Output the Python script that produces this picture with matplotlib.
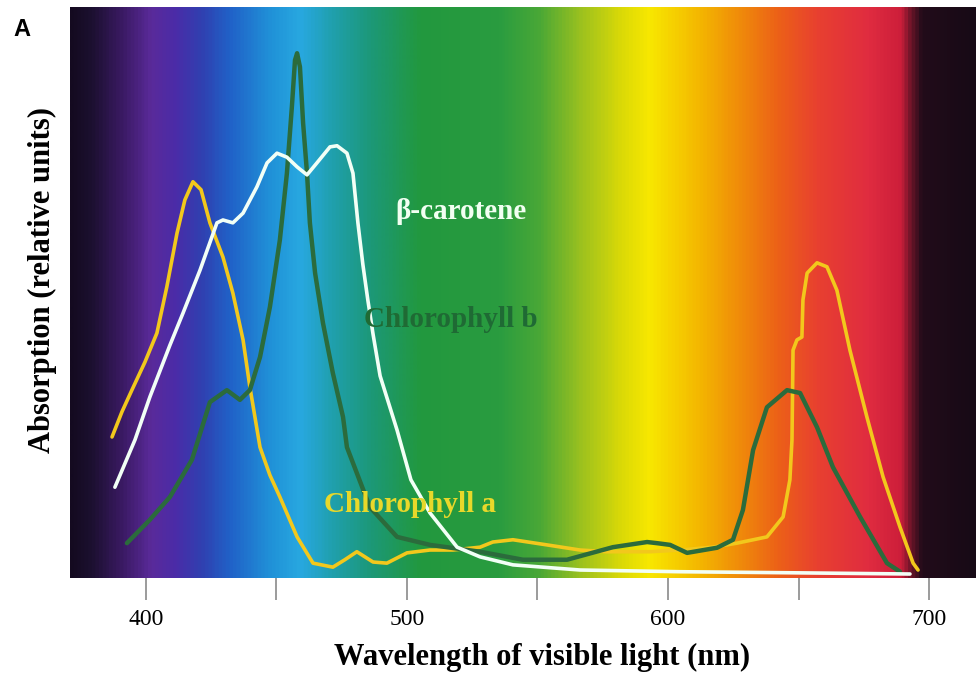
import matplotlib
matplotlib.use("Agg")
import matplotlib.pyplot as plt
import numpy as np
from matplotlib.colors import LinearSegmentedColormap

# wavelength (nm) vs relative absorption
chl_a_nm = [387.0, 390.8, 394.6, 399.6, 404.2, 408.0, 411.9, 414.9, 418.0, 421.1,
            424.5, 429.5, 433.3, 437.2, 439.8, 443.7, 447.5, 451.3, 457.9, 464.0,
            471.6, 476.2, 480.8, 487.0, 492.3, 500.0, 508.8, 517.6, 528.0, 532.9,
            540.6, 553.6, 566.3, 576.6, 593.1, 604.6, 617.2, 626.4, 637.9, 644.1,
            646.7, 647.5, 647.9, 649.4, 651.3, 651.7, 653.3, 657.1, 660.9, 664.7,
            669.7, 676.2, 682.4, 688.9, 693.9, 695.8]
chl_a_abs = [0.247, 0.291, 0.329, 0.378, 0.429, 0.510, 0.604, 0.662, 0.694, 0.680,
             0.622, 0.562, 0.499, 0.417, 0.335, 0.229, 0.180, 0.142, 0.072, 0.026,
             0.019, 0.032, 0.046, 0.028, 0.026, 0.044, 0.049, 0.049, 0.054, 0.063,
             0.067, 0.058, 0.049, 0.046, 0.046, 0.049, 0.054, 0.061, 0.072, 0.107,
             0.172, 0.242, 0.399, 0.417, 0.422, 0.487, 0.534, 0.552, 0.545, 0.504,
             0.399, 0.282, 0.177, 0.089, 0.026, 0.014]

chl_b_nm = [392.7, 401.5, 409.2, 417.6, 424.5, 431.0, 436.0, 439.8, 443.7, 447.5,
            451.3, 454.0, 455.9, 457.1, 457.9, 459.0, 460.2, 461.7, 462.8, 464.8,
            467.8, 471.6, 475.5, 477.0, 485.8, 496.2, 508.8, 528.0, 544.4, 561.3,
            578.9, 592.0, 595.8, 600.8, 607.3, 618.8, 624.9, 628.7, 632.6, 637.9,
            645.6, 650.6, 657.1, 663.2, 673.6, 683.9, 688.9]
chl_b_abs = [0.061, 0.102, 0.142, 0.207, 0.308, 0.329, 0.312, 0.329, 0.387, 0.475,
             0.592, 0.709, 0.825, 0.907, 0.919, 0.895, 0.797, 0.709, 0.622, 0.534,
             0.447, 0.359, 0.282, 0.229, 0.124, 0.072, 0.058, 0.046, 0.032, 0.032,
             0.054, 0.063, 0.061, 0.058, 0.044, 0.053, 0.067, 0.119, 0.224, 0.299,
             0.329, 0.324, 0.264, 0.194, 0.107, 0.026, 0.011]

carot_nm = [388.1, 395.8, 401.5, 409.2, 414.2, 420.7, 427.2, 429.5, 433.3, 437.2,
            442.5, 446.4, 450.2, 454.0, 457.9, 461.7, 465.5, 470.5, 473.2, 477.0,
            479.3, 481.2, 483.1, 485.0, 487.0, 489.7, 496.2, 501.5, 508.8, 519.2,
            528.0, 540.6, 566.3, 604.6, 650.6, 692.7]
carot_abs = [0.159, 0.242, 0.317, 0.408, 0.464, 0.539, 0.622, 0.627, 0.622, 0.639,
             0.685, 0.727, 0.744, 0.737, 0.720, 0.706, 0.727, 0.755, 0.757, 0.744,
             0.709, 0.622, 0.549, 0.487, 0.427, 0.354, 0.259, 0.172, 0.114, 0.054,
             0.037, 0.023, 0.014, 0.011, 0.009, 0.007]

major_ticks = [400, 500, 600, 700]
minor_ticks = [450, 550, 650]

# visible spectrum backdrop
spectrum = [
    (370.9, "#140a20"), (378.5, "#1c1030"), (390.0, "#3a1a62"), (401.5, "#5a2a9a"),
    (411.0, "#4a2ca8"), (420.7, "#3040b0"), (432.0, "#2062c8"), (447.5, "#2092d8"),
    (459.0, "#28a8e0"), (470.5, "#20a0b0"), (485.8, "#1c9878"), (505.0, "#22983e"),
    (535.6, "#2a9c40"), (551.0, "#4aa836"), (566.0, "#98c020"), (581.6, "#d8d808"),
    (593.0, "#f8e800"), (612.0, "#f4b800"), (627.6, "#f08c0a"), (643.0, "#ec6018"),
    (658.0, "#e84030"), (677.4, "#e02c40"), (690.0, "#cc1e3a"), (694.0, "#6a1428"),
    (698.0, "#220c1a"), (718.0, "#170a16"),
]
xmin, xmax = 370.9, 718.0
stops = [((w - xmin) / (xmax - xmin), c) for w, c in spectrum]
cmap = LinearSegmentedColormap.from_list("spectrum", stops)

fig = plt.figure(figsize=(9.76, 6.81), dpi=100)
ax = fig.add_axes([70 / 976, 1 - 578 / 681, 906 / 976, 571 / 681])

grad = np.linspace(0, 1, 1000).reshape(1, -1)
ax.imshow(grad, extent=[xmin, xmax, 0, 1], aspect="auto", cmap=cmap,
          interpolation="bilinear", zorder=0)

line_kw = dict(solid_joinstyle="round", solid_capstyle="round")
ax.plot(chl_a_nm, chl_a_abs, color="#f2c81c", lw=2.6, zorder=2, **line_kw)
ax.plot(chl_b_nm, chl_b_abs, color="#2b6b3c", lw=3.2, zorder=3, **line_kw)
ax.plot(carot_nm, carot_abs, color="#f2fff6", lw=2.6, zorder=4, **line_kw)

serif = ["Liberation Serif", "DejaVu Serif"]
ax.text(520.7, 0.641, "β-carotene", color="#f2fff2", fontsize=21, fontweight="bold",
        family=serif, ha="center", va="center", zorder=5)
ax.text(516.9, 0.452, "Chlorophyll b", color="#1f6a34", fontsize=21, fontweight="bold",
        family=serif, ha="center", va="center", zorder=5)
ax.text(501.1, 0.128, "Chlorophyll a", color="#e8d82a", fontsize=21, fontweight="bold",
        family=serif, ha="center", va="center", zorder=5)

ax.set_xlim(xmin, xmax)
ax.set_ylim(0, 1)
ax.set_xticks(major_ticks)
ax.set_xticklabels([str(t) for t in major_ticks], family=serif, fontsize=17)
ax.set_xticks(minor_ticks, minor=True)
ax.tick_params(axis="x", which="both", direction="out", length=16, width=1.2,
               color="#8a8a8a", pad=6)
ax.set_yticks([])
for s in ax.spines.values():
    s.set_visible(False)

fig.text(0.555, 1 - 657 / 681, "Wavelength of visible light (nm)", fontsize=22,
         fontweight="bold", family=serif, ha="center", va="center")
fig.text(0.044, 1 - 280 / 681, "Absorption (relative units)", fontsize=22,
         fontweight="bold", family=serif, ha="center", va="center", rotation=90)
fig.text(22 / 976, 1 - 29 / 681, "A", fontsize=17, fontweight="bold",
         family=["Liberation Sans", "DejaVu Sans"], ha="center", va="center")

fig.savefig("out.png", dpi=100)
